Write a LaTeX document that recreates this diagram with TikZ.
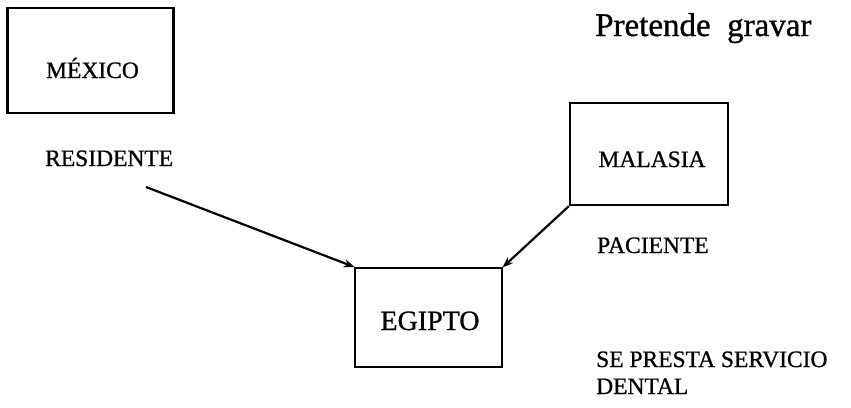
\documentclass[tikz,border=0pt]{standalone}
\usepackage{fontspec}
\setmainfont{Liberation Serif}
% slightly heavier serif for the printed labels
\newfontfamily\printface{Liberation Serif}[FakeBold=0.9]
\usetikzlibrary{arrows.meta}
\begin{document}
\begin{tikzpicture}[x=1pt,y=-1pt,
  box/.style={draw, line width=2.4pt, minimum width=#1, inner sep=0pt},
  caps/.style={font=\printface\fontsize{23.5}{27}\selectfont, inner sep=0pt, anchor=base west},
  boxtext/.style={font=\printface\fontsize{23.5}{27}\selectfont, inner sep=0pt, anchor=base},
  link/.style={line width=2.2pt, -{Stealth[length=11pt,width=8pt]}, shorten >=-1pt}
]
\useasboundingbox (0,0) rectangle (851,407);

% countries
\node[box=166pt, minimum height=105pt] (mexico) at (90.5,60.5) {};
\node[box=158pt, minimum height=102pt] (malasia) at (649,154) {};
\node[box=147pt, minimum height=99pt] (egipto) at (428.5,317.5) {};

\node[boxtext] (tmexico) at (92.5,78) {MÉXICO};
\node[boxtext] (tmalasia) at (652,167) {MALASIA};
\node[boxtext, font=\printface\fontsize{28}{32}\selectfont] (tegipto) at (430,330) {EGIPTO};

% annotations
\node[caps, font=\printface\fontsize{33}{38}\selectfont] (gravar) at (595,36) {Pretende\ \ gravar};
\node[caps] (residente) at (45,166) {RESIDENTE};
\node[caps] (paciente) at (597,253) {PACIENTE};
\node[caps] (servicio) at (596,367) {SE PRESTA SERVICIO};
\node[caps] (dental) at (596,394) {DENTAL};

% links
\coordinate (start) at (146,187);
\draw[link] (start) -- (egipto.north west);
\draw[link] (malasia.south west) -- (egipto.north east);
\end{tikzpicture}
\end{document}
